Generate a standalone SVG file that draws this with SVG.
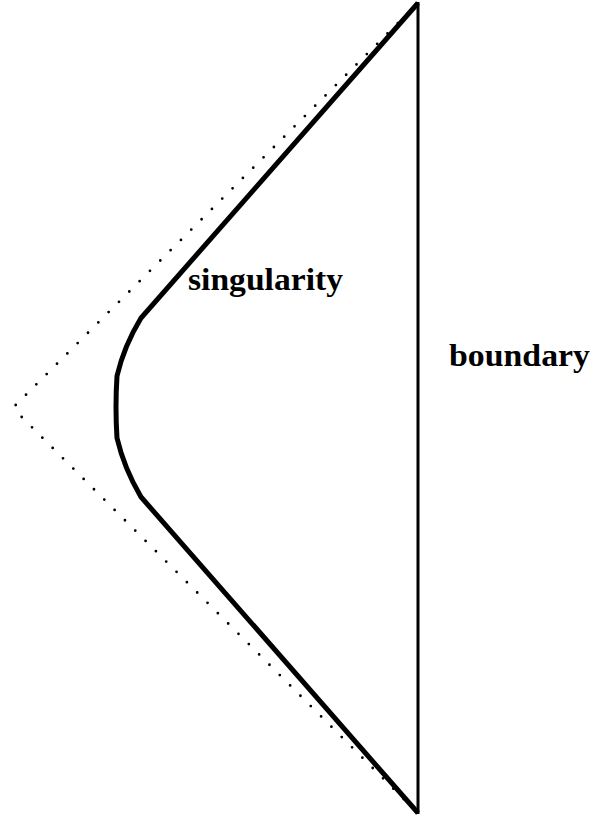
<svg xmlns="http://www.w3.org/2000/svg" width="609" height="819" viewBox="0 0 609 819">
<style>
.dot{fill:none;stroke:#000;stroke-width:2.8;stroke-linecap:round;stroke-dasharray:0 14.6}
.thick{fill:none;stroke:#000;stroke-width:5;stroke-linejoin:miter}
.bound{fill:none;stroke:#000;stroke-width:3}
.lbl{font-family:'Liberation Serif','Times New Roman',Times,serif;font-weight:bold;font-size:32px;fill:#000}
</style>
<rect width="609" height="819" fill="#fff"/>
<g id="connectors">
<path id="dotted-upper" class="dot" d="M15.7,405 L418,3"/>
<path id="dotted-lower" class="dot" d="M21.7,417 L418,813.3"/>
<path id="singularity-curve" class="thick" d="M418,3 L141,318 Q124,346 117,376 Q115,407 117,438 Q124,468 141,497 L418,813"/>
<path id="boundary-line" class="bound" d="M418,2 L418,814"/>
</g>
<g id="label-singularity"><text class="lbl" x="188" y="290" textLength="155" lengthAdjust="spacingAndGlyphs">singularity</text></g>
<g id="label-boundary"><text class="lbl" x="449" y="366" textLength="141" lengthAdjust="spacingAndGlyphs">boundary</text></g>
</svg>
